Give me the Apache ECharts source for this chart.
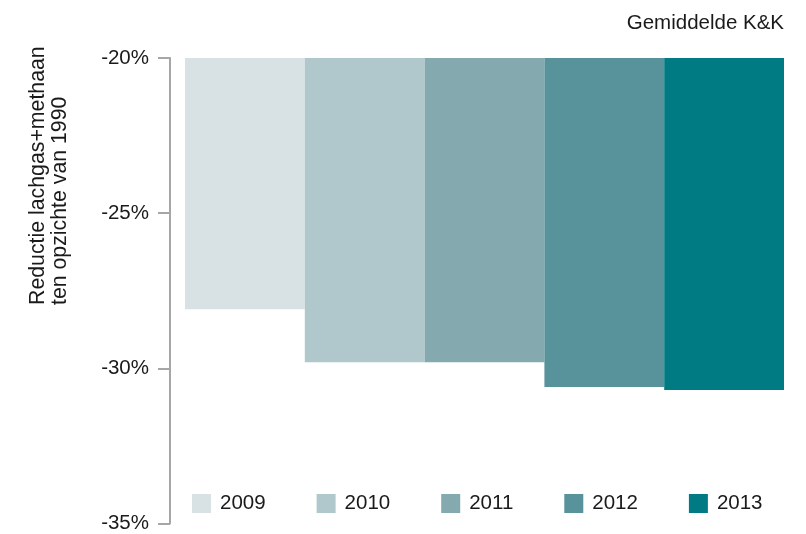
<!DOCTYPE html>
<html>
<head>
<meta charset="utf-8">
<script src="https://cdn.jsdelivr.net/npm/echarts@6/dist/echarts.min.js"></script>
<style>html,body{margin:0;padding:0;background:#fff}#c{width:806px;height:534px}</style>
</head>
<body>
<div id="c"></div>
<script>
const years = ['2009', '2010', '2011', '2012', '2013'];
const values = [-28.1, -29.8, -29.8, -30.6, -30.7];
const colors = ['#d8e1e4', '#b0c7cb', '#84aab0', '#58939b', '#017b83'];
const yTicks = { min: -35, max: -20, interval: 5 };
const yName = ['Reductie lachgas+methaan', 'ten opzichte van 1990'];
const titleText = 'Gemiddelde K&K';

const FONT = '"Liberation Sans", Arial, Helvetica, sans-serif';
const FS = 20.5;
const TXT = '#1a1a1a';

const chart = echarts.init(document.getElementById('c'), null, { renderer: 'canvas' });
chart.setOption({
  animation: false,
  backgroundColor: '#fff',
  title: {
    text: titleText, right: 17, top: 8,
    textStyle: { fontFamily: FONT, fontSize: FS, fontWeight: 'normal', color: TXT }
  },
  legend: {
    data: years, left: 192, top: 493, padding: 0,
    itemWidth: 19, itemHeight: 19, itemGap: 51,
    icon: 'rect',
    textStyle: { fontFamily: FONT, fontSize: FS, color: TXT, padding: [0, 0, 0, 4] }
  },
  grid: { left: 185, right: 22, top: 58, bottom: 10, containLabel: false },
  xAxis: { type: 'category', data: [''], show: false },
  yAxis: {
    type: 'value', min: yTicks.min, max: yTicks.max, interval: yTicks.interval,
    offset: 15,
    axisLine: { show: true, lineStyle: { color: '#a6a6a6', width: 2 } },
    axisTick: { show: true, length: 12, lineStyle: { color: '#a6a6a6', width: 2 } },
    axisLabel: { formatter: '{value}%', margin: 21, fontFamily: FONT, fontSize: FS, color: TXT },
    splitLine: { show: false }
  },
  graphic: yName.map((t, i) => ({
    type: 'text', x: 38 + i * 22, y: 305, rotation: Math.PI / 2,
    style: { text: t, fontFamily: FONT, fontSize: 21.3, fill: TXT, align: 'left', verticalAlign: 'middle' }
  })),
  series: years.map((y, i) => ({
    name: y, type: 'bar', data: [values[i]],
    barGap: 0, barCategoryGap: 0, clip: true,
    itemStyle: { color: colors[i] }
  }))
});
</script>
</body>
</html>
